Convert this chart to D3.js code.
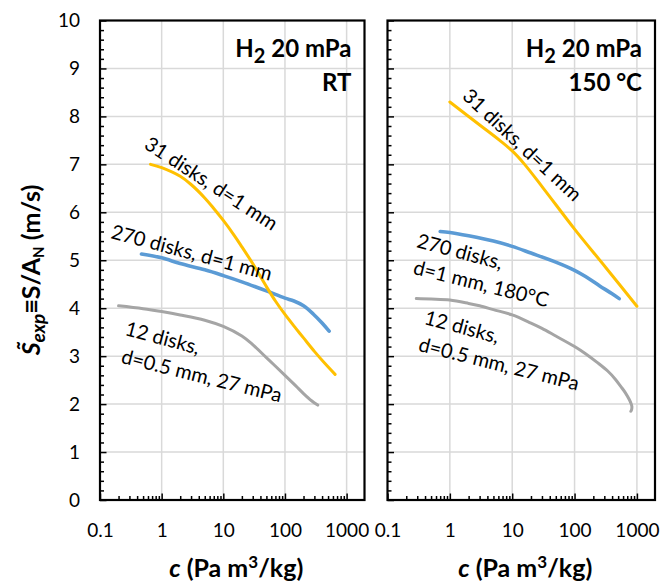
<!DOCTYPE html>
<html><head><meta charset="utf-8">
<script src="https://cdn.jsdelivr.net/npm/d3@7"></script>
<style>
body{margin:0;background:#fff;}
svg{display:block;font-family:Lato,"Open Sans",sans-serif;}
</style></head>
<body><svg id="c" width="671" height="585"></svg>
<script>
// ---------- data ----------
const xTickValues = [0.1, 1, 10, 100, 1000];
const xTickLabels = ["0.1", "1", "10", "100", "1000"];
const yTickValues = [0,1,2,3,4,5,6,7,8,9,10];
const yTickLabels = ["0","1","2","3","4","5","6","7","8","9","10"];

// Left panel (RT)
const rtDisks31 = [[0.66,7.0],[1,6.93],[2,6.75],[3,6.58],[5,6.3],[7,6.08],[10,5.83],[15,5.52],[20,5.28],[30,4.93],[50,4.45],[70,4.15],[100,3.87],[150,3.58],[200,3.38],[300,3.1],[450,2.84],[650,2.62]];
const rtDisks270 = [[0.47,5.13],[1,5.05],[2,4.93],[5,4.8],[10,4.68],[20,4.55],[50,4.36],[100,4.21],[140,4.15],[200,4.05],[287,3.88],[400,3.69],[520,3.52]];
const rtDisks12 = [[0.2,4.05],[0.5,3.99],[1,3.93],[2,3.86],[5,3.75],[10,3.62],[20,3.42],[30,3.24],[50,2.97],[100,2.6],[150,2.38],[200,2.22],[270,2.07],[340,1.98]];

// Right panel (150 °C)
const htDisks31 = [[1,8.3],[3.16,7.8],[6.3,7.5],[10,7.28],[15.8,7.0],[31.6,6.5],[100,5.65],[316,4.85],[1000,4.04]];
const htDisks270 = [[0.7,5.6],[1,5.58],[2,5.51],[5,5.4],[10,5.29],[20,5.15],[50,4.96],[100,4.79],[150,4.66],[250,4.47],[400,4.3],[520,4.2]];
const htDisks12 = [[0.29,4.2],[0.5,4.19],[1,4.17],[2,4.1],[3,4.05],[5,3.97],[10,3.86],[20,3.69],[30,3.58],[50,3.42],[100,3.2],[150,3.05],[230,2.87],[340,2.69],[450,2.52],[550,2.37],[650,2.24],[750,2.1],[800,2.02],[830,1.95],[820,1.88],[800,1.85]];

const seriesColors = {d31:"#FFC000", d270:"#5B9BD5", d12:"#A5A5A5"};

// ---------- layout ----------
const svg = d3.select("#c");
const yTop = 20.5, yBot = 500;
const xDomain = [0.1, 1950];
const y = d3.scaleLinear().domain([0,10]).range([yBot, yTop]);

const panels = [
  {x0:100, x1:364.5, yLabels:true,
   series:[{d:rtDisks12,c:"d12"},{d:rtDisks270,c:"d270"},{d:rtDisks31,c:"d31"}],
   note:["RT"],
   labels:[
     {t:"31 disks, d=1 mm", x:6.5, y:6.62, a:33},
     {t:"270 disks, d=1 mm", x:3.1, y:5.18, a:15},
     {t:"12 disks,", x:1.05, y:3.40, a:15},
     {t:"d=0.5 mm, 27 mPa", x:4.5, y:2.61, a:14}
   ]},
  {x0:387.5, x1:655, yLabels:false,
   series:[{d:htDisks12,c:"d12"},{d:htDisks270,c:"d270"},{d:htDisks31,c:"d31"}],
   note:["150 °C"],
   labels:[
     {t:"31 disks, d=1 mm", x:14.9, y:7.42, a:43},
     {t:"270 disks,", x:1.47, y:5.2, a:15},
     {t:"d=1 mm, 180°C", x:3.2, y:4.53, a:14},
     {t:"12 disks,", x:1.58, y:3.63, a:15},
     {t:"d=0.5 mm, 27 mPa", x:6.2, y:2.86, a:14}
   ]}
];

const minorX = [];
[0.1,1,10,100,1000].forEach(d=>{for(let k=2;k<=9;k++){const v=d*k; if(v<=xDomain[1]) minorX.push(v);}});
const minorY = d3.range(0,10.001,0.2).filter(v=>Math.abs(v-Math.round(v))>1e-6);

panels.forEach(p=>{
  const x = d3.scaleLog().domain(xDomain).range([p.x0,p.x1]);
  const g = svg.append("g");
  // gridlines
  g.append("g").selectAll("line").data(xTickValues.slice(1)).join("line")
    .attr("x1",d=>x(d)).attr("x2",d=>x(d)).attr("y1",yTop).attr("y2",yBot)
    .attr("stroke","#d9d9d9").attr("stroke-width",1.5);
  g.append("g").selectAll("line").data(yTickValues.slice(1,-1)).join("line")
    .attr("x1",p.x0).attr("x2",p.x1).attr("y1",d=>y(d)).attr("y2",d=>y(d))
    .attr("stroke","#d9d9d9").attr("stroke-width",1.5);

  // series
  const line = d3.line().x(d=>x(d[0])).y(d=>y(d[1])).curve(d3.curveCatmullRom.alpha(0.5));
  p.series.forEach(s=>{
    g.append("path").attr("d",line(s.d)).attr("fill","none")
     .attr("stroke",seriesColors[s.c]).attr("stroke-width",s.c==="d270"?3.6:3)
     .attr("stroke-linecap","round").attr("stroke-linejoin","round");
  });

  // ticks via axes
  const ax = (gen)=>g.append("g").call(gen).call(a=>a.select(".domain").remove());
  ax(d3.axisBottom(x).tickValues(minorX).tickSize(-4).tickFormat(""))
    .attr("transform",`translate(0,${yBot})`).selectAll("line").attr("stroke","#000").attr("stroke-width",1.5);
  ax(d3.axisBottom(x).tickValues(xTickValues).tickSize(-6.5).tickPadding(24)
      .tickFormat((d,i)=>xTickLabels[i]))
    .attr("transform",`translate(0,${yBot})`)
    .call(a=>{a.selectAll("line").attr("stroke","#000").attr("stroke-width",1.5);
              a.selectAll("text").attr("font-size",19).attr("fill","#000").attr("font-family","Lato");});
  ax(d3.axisLeft(y).tickValues(minorY).tickSize(-4).tickFormat(""))
    .attr("transform",`translate(${p.x0},0)`).selectAll("line").attr("stroke","#000").attr("stroke-width",1.5);
  ax(d3.axisLeft(y).tickValues(yTickValues).tickSize(-6.5).tickPadding(20)
      .tickFormat((d,i)=>p.yLabels?yTickLabels[i]:""))
    .attr("transform",`translate(${p.x0},0)`)
    .call(a=>{a.selectAll("line").attr("stroke","#000").attr("stroke-width",1.5);
              a.selectAll("text").attr("font-size",19).attr("fill","#000").attr("font-family","Lato");});

  // border
  g.append("rect").attr("x",p.x0).attr("y",yTop).attr("width",p.x1-p.x0).attr("height",yBot-yTop)
    .attr("fill","none").attr("stroke","#000").attr("stroke-width",2.2);

  // annotation
  const rx = p.x1 - 13;
  const t1 = g.append("text").attr("x",rx).attr("y",57).attr("text-anchor","end")
    .attr("font-size",24).attr("font-weight","bold");
  t1.append("tspan").text("H");
  t1.append("tspan").attr("dy",6).attr("font-size",20).text("2");
  t1.append("tspan").attr("dy",-6).text(" 20 mPa");
  g.append("text").attr("x",rx).attr("y",91).attr("text-anchor","end")
    .attr("font-size",24).attr("font-weight","bold").text(p.note[0]);

  // series labels
  p.labels.forEach(l=>{
    g.append("text").attr("transform",`translate(${x(l.x)},${y(l.y)}) rotate(${l.a})`)
     .attr("text-anchor","middle").attr("dominant-baseline","central")
     .attr("font-size",20).text(l.t);
  });

  // x-axis title
  const xt = g.append("text").attr("x",(p.x0+p.x1)/2+4).attr("y",577)
    .attr("text-anchor","middle").attr("font-size",25).attr("font-weight","bold");
  xt.append("tspan").attr("font-style","italic").text("c");
  xt.append("tspan").text(" (Pa m");
  xt.append("tspan").attr("font-size",17).attr("dy",-9).text("3");
  xt.append("tspan").attr("dy",9).text("/kg)");
});

// y-axis title
const yt = svg.append("text").attr("transform","translate(40,270) rotate(-90)")
  .attr("text-anchor","middle").attr("font-size",25).attr("font-weight","bold");
yt.append("tspan").attr("font-style","italic").text("S\u0303");
yt.append("tspan").attr("font-style","italic").attr("font-size",19).attr("dy",5).text("exp");
yt.append("tspan").attr("dy",-5).text("\u2261S/A");
yt.append("tspan").attr("font-size",15).attr("dy",4).text("N");
yt.append("tspan").attr("dy",-4).text(" (m/s)");
</script></body></html>
